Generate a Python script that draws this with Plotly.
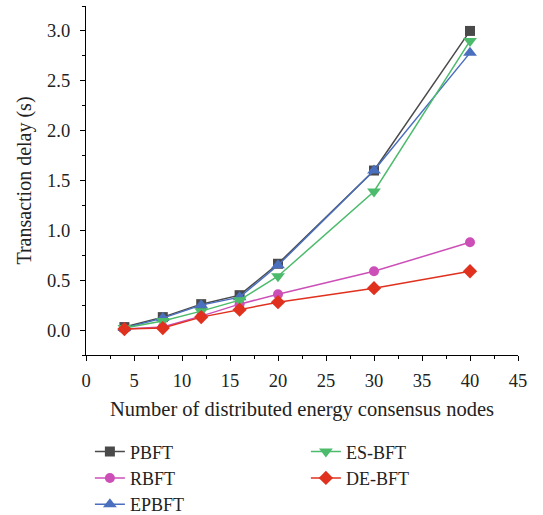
import plotly.graph_objects as go

nodes = [4, 8, 12, 16, 20, 30, 40]
pbft = [0.03, 0.13, 0.26, 0.35, 0.665, 1.60, 3.00]
rbft = [0.01, 0.03, 0.14, 0.26, 0.36, 0.59, 0.88]
epbft = [0.02, 0.12, 0.25, 0.33, 0.65, 1.60, 2.78]
esbft = [0.02, 0.09, 0.19, 0.30, 0.54, 1.39, 2.90]
debft = [0.01, 0.02, 0.13, 0.205, 0.28, 0.42, 0.59]

x_ticks = [0, 5, 10, 15, 20, 25, 30, 35, 40, 45]
y_ticks = [0.0, 0.5, 1.0, 1.5, 2.0, 2.5, 3.0]

FONT = "Liberation Serif"

series = [
    ("PBFT", pbft, "#4a4a4a", "square", 10, "legend"),
    ("RBFT", rbft, "#cc4fb8", "circle", 10, "legend"),
    ("EPBFT", epbft, "#4a6fbf", "triangle-up", 12, "legend"),
    ("ES-BFT", esbft, "#4cbb6c", "triangle-down", 12, "legend2"),
    ("DE-BFT", debft, "#e0301e", "diamond", 11, "legend2"),
]

fig = go.Figure()
for name, vals, color, sym, size, leg in series:
    fig.add_trace(go.Scatter(
        x=nodes, y=vals, name=name, mode="lines+markers",
        line=dict(color=color, width=1.5),
        marker=dict(symbol=sym, size=size, color=color),
        legend=leg,
    ))

axis_common = dict(
    showline=True, linecolor="black", linewidth=1.2,
    ticks="outside", ticklen=5, tickcolor="black", tickwidth=1,
    showgrid=False, zeroline=False, mirror=False, automargin=False,
    tickfont=dict(family=FONT, size=18.5, color="#222"),
)

fig.update_xaxes(
    range=[0, 45], tickvals=x_ticks, ticklabelstandoff=4,
    minor=dict(ticks="outside", ticklen=3, dtick=2.5, tick0=0, tickcolor="black"),
    title=dict(text="Number of distributed energy consensus nodes",
               font=dict(family=FONT, size=20.5, color="#222"), standoff=11),
    **axis_common,
)
fig.update_yaxes(
    range=[-0.25, 3.25], tickvals=y_ticks, ticktext=[f"{v:.1f}" for v in y_ticks],
    ticklabelstandoff=6,
    minor=dict(ticks="outside", ticklen=3, dtick=0.25, tick0=0, tickcolor="black"),
    title=dict(text="Transaction delay (s)",
               font=dict(family=FONT, size=20, color="#222"), standoff=10),
    **axis_common,
)

legend_common = dict(
    font=dict(family=FONT, size=18, color="#222"),
    bgcolor="rgba(0,0,0,0)", xanchor="left", yanchor="top",
    tracegroupgap=0, itemwidth=30,
)

fig.update_layout(
    width=543, height=515,
    margin=dict(l=86, r=25, t=6, b=160, autoexpand=False),
    plot_bgcolor="white", paper_bgcolor="white",
    legend=dict(x=0.009, y=-0.2245, **legend_common),
    legend2=dict(x=0.509, y=-0.2245, **legend_common),
)

fig.write_html("out.html", config={"displayModeBar": False},
               post_script="document.body.style.margin='0';")
